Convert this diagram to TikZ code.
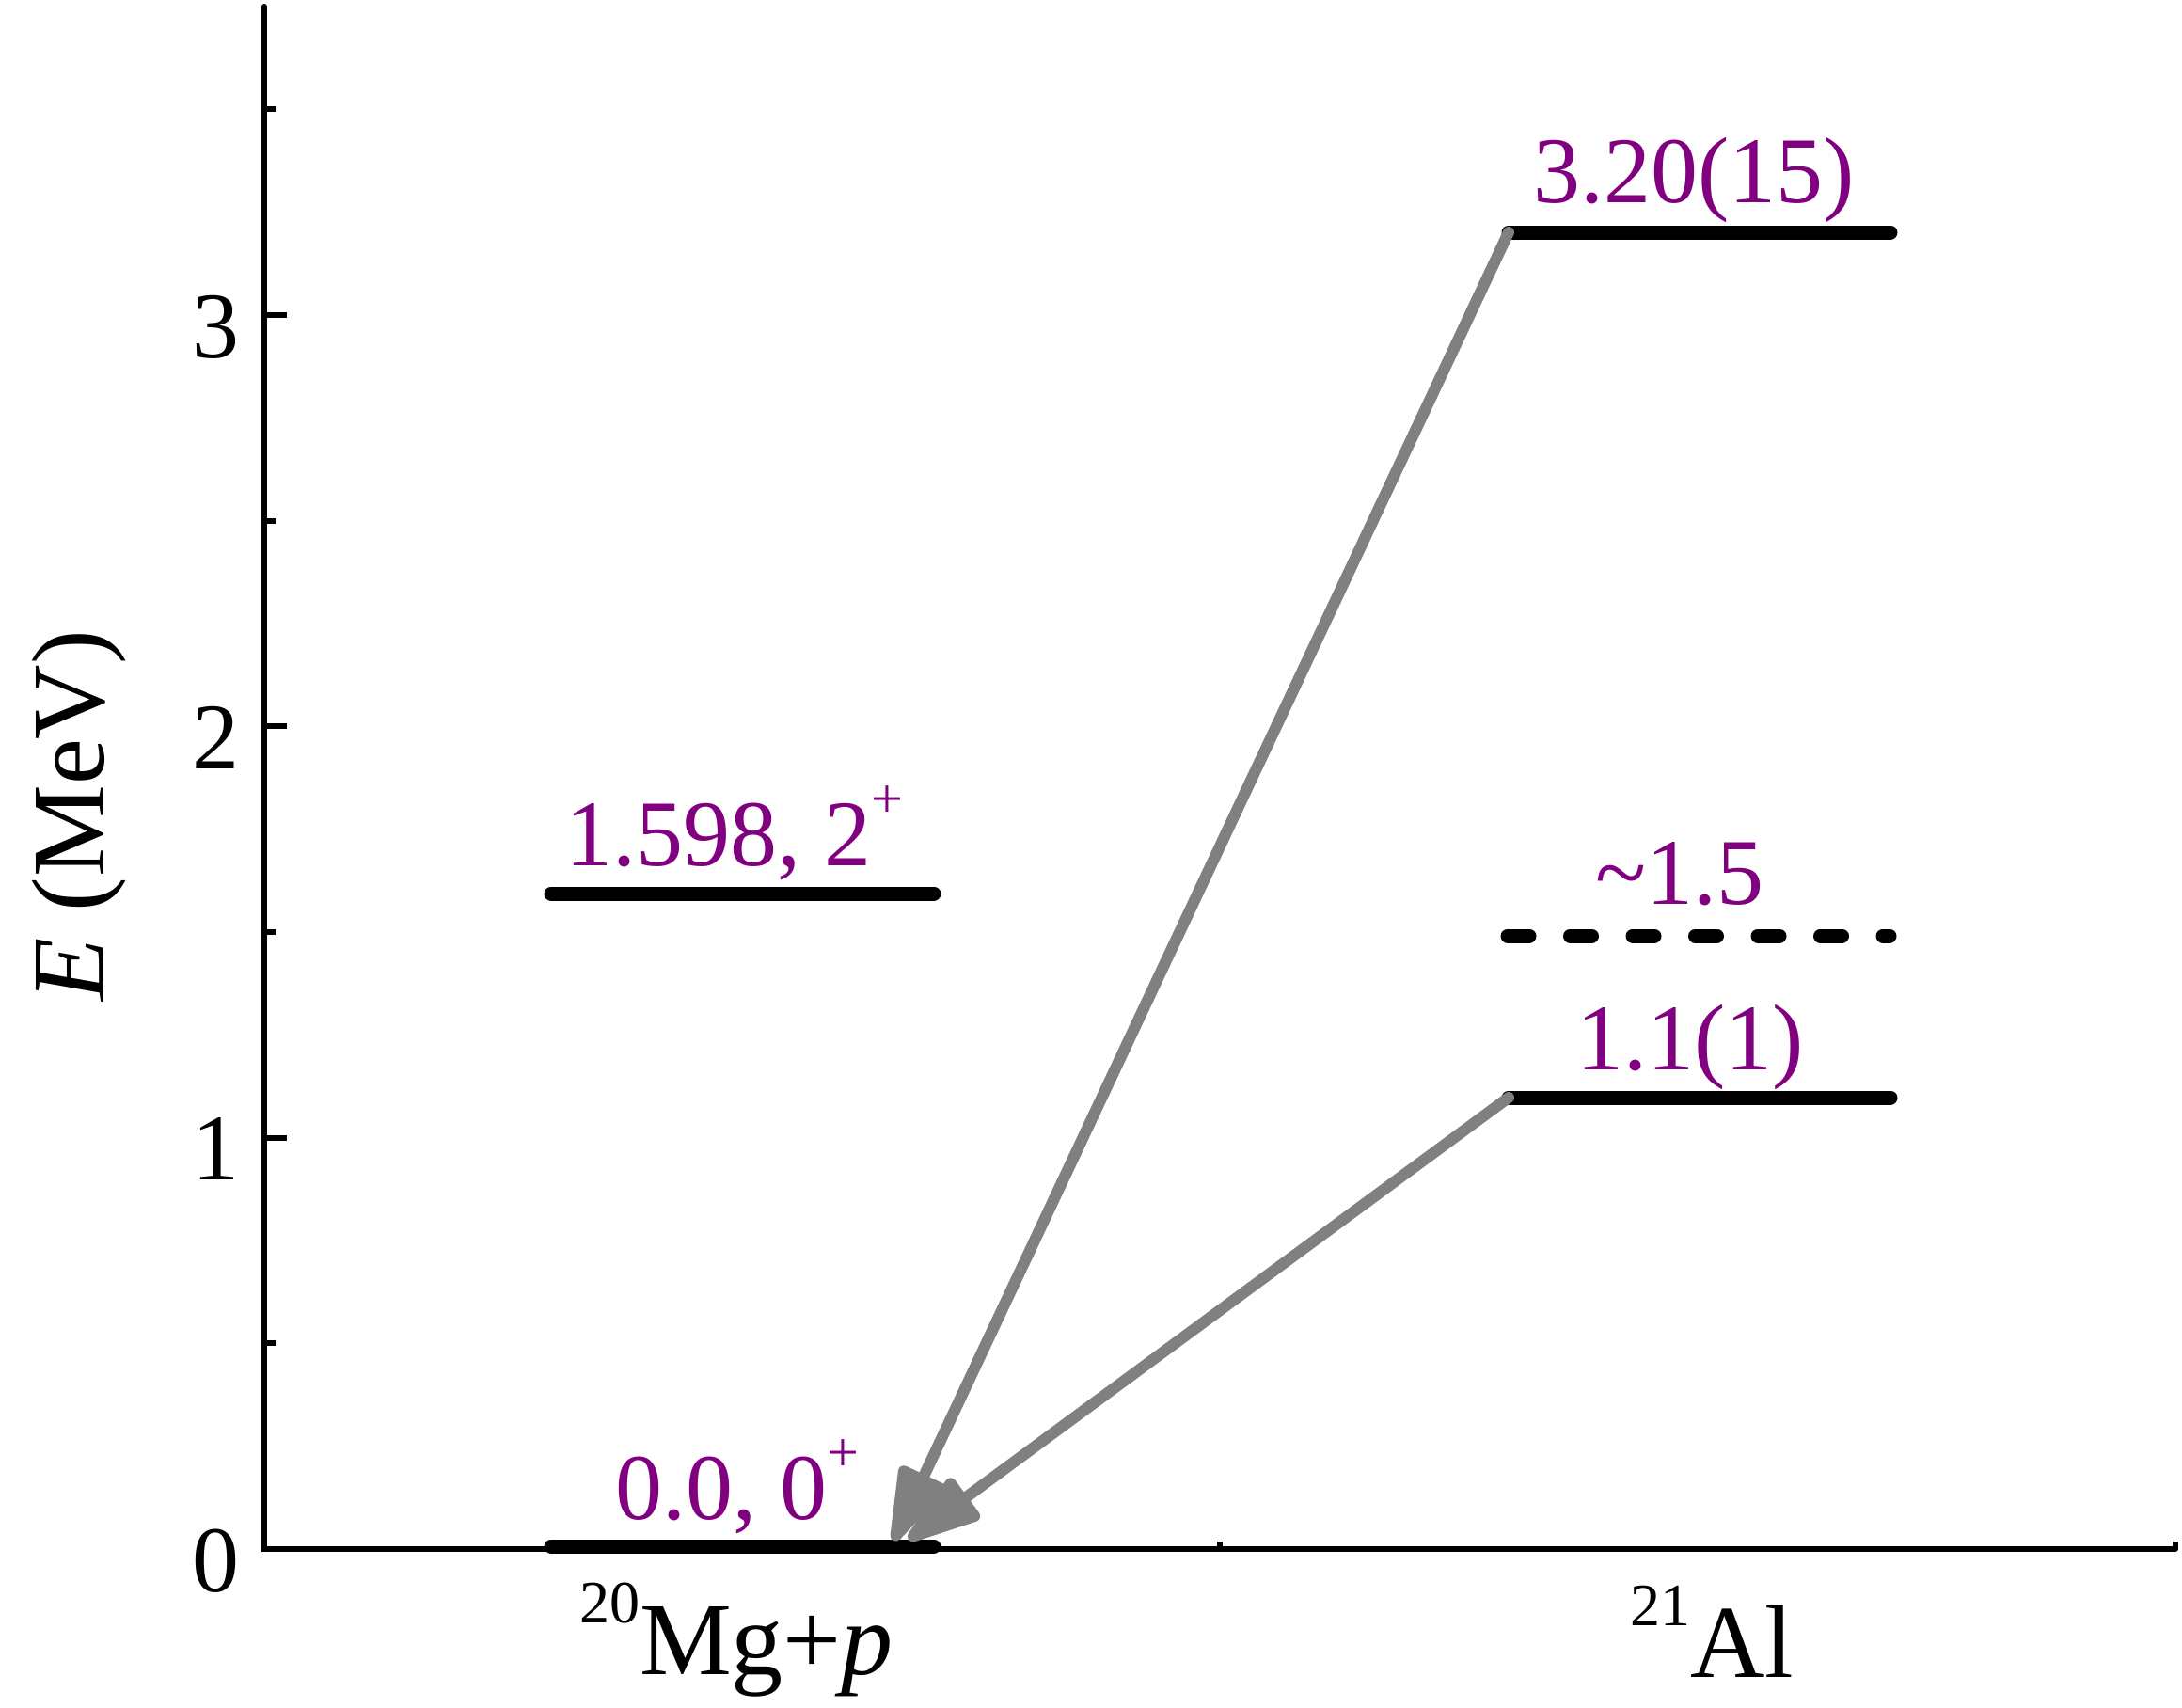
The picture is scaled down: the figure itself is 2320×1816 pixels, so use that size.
\documentclass[tikz,border=0pt]{standalone}
\usepackage{fontspec}
\setmainfont{Liberation Serif}
\usetikzlibrary{arrows.meta}
\definecolor{lvlpurple}{RGB}{128,0,128}
\definecolor{arrgray}{RGB}{128,128,128}
\newcommand{\suplvl}[1]{\raisebox{25.5pt}{\fontsize{30}{30}\selectfont #1}}
\newcommand{\supnuc}[1]{\raisebox{27.5pt}{\fontsize{32}{32}\selectfont #1}}
\begin{document}
\begin{tikzpicture}[x=0.5pt,y=-0.5pt,
  axisline/.style={line width=3pt,line cap=round},
  tickline/.style={line width=3pt},
  level/.style={line width=7.5pt,line cap=round},
  dlevel/.style={level,dash pattern=on 11.5pt off 21.75pt},
  lbl/.style={text=lvlpurple,font=\fontsize{50}{60}\selectfont,inner sep=0pt,anchor=base},
  ticklbl/.style={font=\fontsize{50}{60}\selectfont,inner sep=0pt,anchor=base east},
  nuc/.style={font=\fontsize{55}{66}\selectfont,inner sep=0pt,anchor=base},
  decay/.style={draw=arrgray,line width=6pt,line cap=round,-{Triangle[length=46pt,width=28pt,round,fill=arrgray]}}
]
\useasboundingbox (0,0) rectangle (2320,1816);

% axes
\draw[axisline] (281,7) -- (281,1647) -- (2313,1647);
\foreach \e in {0,1,2,3} {
  \draw[tickline] (281,{1647-437.3*\e}) -- ++(24,0);
  \node[ticklbl] (tick\e) at (255,{1647-437.3*\e+45}) {\e};
}
\foreach \e in {0.5,1.5,2.5,3.5}
  \draw[tickline] (281,{1647-437.3*\e}) -- ++(12,0);
\foreach \xx in {1297,2313}
  \draw[tickline] (\xx,1647) -- ++(0,-8);

% level coordinates
\coordinate (g1L) at (586,950);   \coordinate (g1R) at (993,950);
\coordinate (a3L) at (1604,247);  \coordinate (a3R) at (2010,247);
\coordinate (a15L) at (1603,995); \coordinate (a15R) at (2009,995);
\coordinate (a11L) at (1604,1167);\coordinate (a11R) at (2010,1167);
\coordinate (g0L) at (586,1644);  \coordinate (g0R) at (993,1644);
\coordinate (tipA) at (950,1638);
\coordinate (tipB) at (966,1637);

% levels
\draw[level] (g1L) -- (g1R);
\draw[level] (a3L) -- (a3R);
\draw[dlevel] (a15L) -- (a15R);
\draw[level] (a11L) -- (a11R);
\draw[level] (g0L) -- (g0R);

% decays
\draw[decay] (a3L) -- (tipA);
\draw[decay] (a11L) -- (tipB);

% level labels
\node[lbl] (lab0) at (784,1615) {0.0, 0\suplvl{+}};
\node[lbl] (lab1) at (781,920) {1.598, 2\suplvl{+}};
\node[lbl] (lab32) at (1801,215) {3.20(15)};
\node[lbl] (lab15) at (1786,961) {\textasciitilde 1.5};
\node[lbl] (lab11) at (1797,1137) {1.1(1)};

% nucleus labels and axis title
\node[nuc] (mg) at (783,1780) {\supnuc{20}Mg+\textit{p}};
\node[nuc] (al) at (1820,1783) {\supnuc{21}Al};
\node[nuc,rotate=90] (etitle) at (110,867) {\textit{E} (MeV)};
\end{tikzpicture}
\end{document}
